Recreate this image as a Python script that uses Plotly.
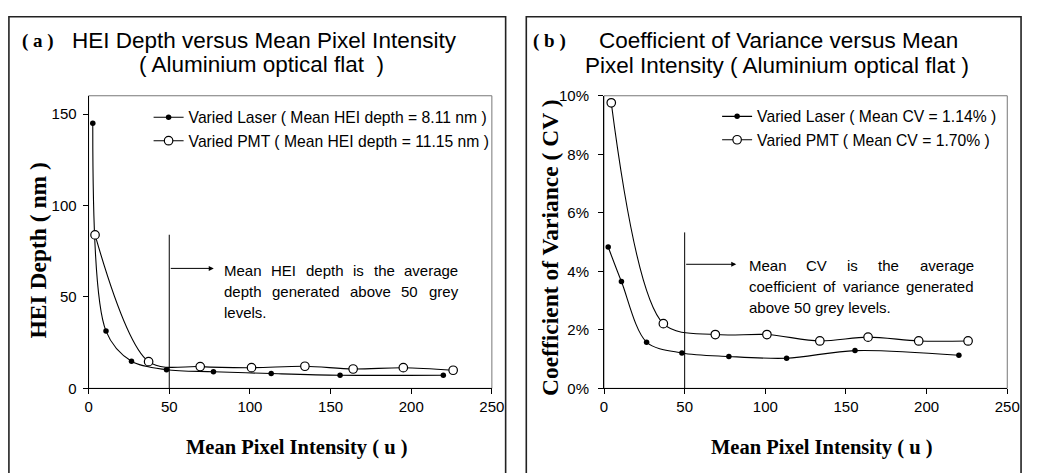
import plotly.graph_objects as go

W, H = 1037, 473

# ---------------- data ----------------
laser_x_a = [2.6, 10.8, 26.6, 48.3, 77.4, 113.2, 155.9, 219.9]
laser_y_a = [145, 31.3, 14.8, 10.2, 9.1, 8.1, 7.2, 7.2]
pmt_x_a = [4.0, 37.2, 69.2, 101.0, 134.1, 164.0, 195.1, 226.0]
pmt_y_a = [83.9, 14.6, 11.9, 11.3, 12.1, 10.6, 11.3, 9.9]

laser_x_b = [2.6, 10.8, 26.4, 48.3, 77.4, 113.2, 155.6, 220.0]
laser_y_b = [0.0483, 0.0365, 0.0158, 0.0121, 0.0109, 0.0103, 0.0129, 0.0113]
pmt_x_b = [4.5, 36.8, 69.0, 101.0, 133.8, 163.7, 195.1, 225.7]
pmt_y_b = [0.0976, 0.0221, 0.0184, 0.0184, 0.0162, 0.0175, 0.0162, 0.0162]

name_laser_a = "Varied Laser ( Mean HEI depth = 8.11 nm )"
name_pmt_a = "Varied PMT ( Mean HEI depth = 11.15 nm )"
name_laser_b = "Varied Laser ( Mean CV = 1.14% )"
name_pmt_b = "Varied PMT ( Mean CV = 1.70% )"

x_ticks = [0, 50, 100, 150, 200, 250]
y_ticks_a = [0, 50, 100, 150]
y_ticks_b = [0, 0.02, 0.04, 0.06, 0.08, 0.10]
threshold = 50
vline_top_a, arrow_y_a, arrow_end_a = 84, 65.6, 77.6
vline_top_b, arrow_y_b, arrow_end_b = 0.0533, 0.0424, 82

SANS = "Liberation Sans, Arial, sans-serif"
SERIF = "Liberation Serif, Times New Roman, serif"

def px(x):
    return x / W

def py(y):
    return 1 - y / H

fig = go.Figure()

laser_style = dict(mode="lines+markers", line=dict(color="black", width=1.1, shape="spline", smoothing=0.9),
                   marker=dict(symbol="circle", size=5.5, color="black"))
pmt_style = dict(mode="lines+markers", line=dict(color="black", width=1.1, shape="spline", smoothing=0.9),
                 marker=dict(symbol="circle", size=8.5, color="white", line=dict(color="black", width=1.2)))

fig.add_trace(go.Scatter(x=laser_x_a, y=laser_y_a, name=name_laser_a, xaxis="x", yaxis="y", legend="legend", **laser_style))
fig.add_trace(go.Scatter(x=pmt_x_a, y=pmt_y_a, name=name_pmt_a, xaxis="x", yaxis="y", legend="legend", **pmt_style))
fig.add_trace(go.Scatter(x=laser_x_b, y=laser_y_b, name=name_laser_b, xaxis="x2", yaxis="y2", legend="legend2", **laser_style))
fig.add_trace(go.Scatter(x=pmt_x_b, y=pmt_y_b, name=name_pmt_b, xaxis="x2", yaxis="y2", legend="legend2", **pmt_style))

ydom = [py(393.5), py(90)]
axis_common = dict(showgrid=False, zeroline=False, showline=True, linecolor="black", linewidth=1,
                   ticks="outside", ticklen=5, tickcolor="black", tickwidth=1,
                   tickfont=dict(family=SANS, size=15, color="black"))

legend_common = dict(xanchor="left", yanchor="top", bgcolor="rgba(0,0,0,0)", borderwidth=0,
                     font=dict(family=SANS, size=15.7, color="black"), itemwidth=30, tracegroupgap=0)

fig.update_layout(
    width=W, height=H, margin=dict(l=0, r=0, t=0, b=0),
    paper_bgcolor="white", plot_bgcolor="white", showlegend=True,
    xaxis=dict(domain=[px(86), px(496)], range=[0, 250], tickvals=x_ticks, anchor="y", **axis_common),
    yaxis=dict(domain=ydom, range=[0, 160], tickvals=y_ticks_a, anchor="x", ticklabelstandoff=3, **axis_common),
    xaxis2=dict(domain=[px(610), px(1020)], range=[0, 250], tickvals=x_ticks, anchor="y2", **axis_common),
    yaxis2=dict(domain=ydom, range=[0, 0.10], tickvals=y_ticks_b, tickformat=".0%", anchor="x2",
                ticklabelstandoff=6, **axis_common),
    legend=dict(x=px(147), y=py(95), **legend_common),
    legend2=dict(x=px(725), y=py(94), **legend_common),
)

shapes = []
# panel borders
for x0, x1 in [(5, 510), (531, 1034)]:
    shapes.append(dict(type="rect", xref="paper", yref="paper", x0=px(x0), x1=px(x1), y0=-0.05, y1=py(8),
                       line=dict(color="#222", width=1.6), fillcolor="rgba(0,0,0,0)", layer="below"))
# plot-area frames
for xr, yr in [("x", "y"), ("x2", "y2")]:
    shapes.append(dict(type="rect", xref=xr + " domain", yref=yr + " domain", x0=0, x1=1, y0=0, y1=1,
                       line=dict(color="#777", width=1), layer="below"))
# threshold vertical lines
shapes.append(dict(type="line", xref="x", yref="y", x0=threshold, x1=threshold, y0=0, y1=vline_top_a,
                   line=dict(color="black", width=1)))
shapes.append(dict(type="line", xref="x2", yref="y2", x0=threshold, x1=threshold, y0=0, y1=vline_top_b,
                   line=dict(color="black", width=1)))
fig.update_layout(shapes=shapes)

ann = []
# arrows
ann.append(dict(x=arrow_end_a, y=arrow_y_a, ax=threshold, ay=arrow_y_a, xref="x", yref="y", axref="x", ayref="y",
                text="", showarrow=True, arrowhead=2, arrowsize=1, arrowwidth=1, arrowcolor="black"))
ann.append(dict(x=arrow_end_b, y=arrow_y_b, ax=threshold, ay=arrow_y_b, xref="x2", yref="y2", axref="x2", ayref="y2",
                text="", showarrow=True, arrowhead=2, arrowsize=1, arrowwidth=1, arrowcolor="black"))

# titles
def txt(x, y, s, size, family=SANS, bold=False, **kw):
    d = dict(x=px(x), y=py(y), xref="paper", yref="paper", text=("<b>%s</b>" % s) if bold else s,
             showarrow=False, xanchor="center", yanchor="middle",
             font=dict(family=family, size=size, color="black"))
    d.update(kw)
    ann.append(d)

txt(35, 33, "( a )", 19, SERIF, True)
txt(265, 33, "HEI Depth versus Mean Pixel Intensity", 22.5)
txt(261.5, 58, "( Aluminium optical flat  )", 22.5)
txt(555, 33, "( b )", 19, SERIF, True)
txt(787, 33, "Coefficient of Variance versus Mean", 22.5)
txt(786, 59, "Pixel Intensity ( Aluminium optical flat )", 22.5)

# axis titles
txt(35, 250, "HEI Depth ( nm )", 23.5, SERIF, True, textangle=-90)
txt(555, 247, "Coefficient of Variance ( CV )", 23.5, SERIF, True, textangle=-90)
txt(298, 455, "Mean Pixel Intensity ( u )", 20.5, SERIF, True)
txt(832, 455, "Mean Pixel Intensity ( u )", 20.5, SERIF, True)

# justified explanatory text
CW = {'M': 833, 'e': 556, 'a': 556, 'n': 556, 'H': 722, 'E': 667, 'I': 278, 'd': 556, 'p': 556, 't': 278,
      'h': 556, 'i': 222, 's': 500, 'v': 500, 'r': 333, 'g': 556, 'o': 556, 'b': 556, '5': 556, '0': 556,
      'y': 500, 'l': 222, '.': 278, 'C': 722, 'V': 667, 'c': 500, 'f': 278}
FS = 15

def wwidth(w):
    return sum(CW.get(c, 556) for c in w) * FS / 1000.0

def justified(line, left, right, y, justify=True):
    words = line.split()
    if not justify or len(words) == 1:
        ann.append(dict(x=px(left), y=py(y), xref="paper", yref="paper", text=line, showarrow=False,
                        xanchor="left", yanchor="middle", font=dict(family=SANS, size=FS, color="black")))
        return
    total = sum(wwidth(w) for w in words)
    gap = (right - left - total) / (len(words) - 1)
    pos = left
    for w in words:
        ann.append(dict(x=px(pos), y=py(y), xref="paper", yref="paper", text=w, showarrow=False,
                        xanchor="left", yanchor="middle", font=dict(family=SANS, size=FS, color="black")))
        pos += wwidth(w) + gap

note_a = ["Mean HEI depth is the average", "depth generated above 50 grey", "levels."]
note_b = ["Mean CV is the average", "coefficient of variance generated", "above 50 grey levels."]
for i, (ln, yy) in enumerate(zip(note_a, [271.5, 293, 314.5])):
    justified(ln, 222, 459, yy, justify=(i < 2))
for i, (ln, yy) in enumerate(zip(note_b, [266, 288, 310])):
    justified(ln, 755, 983, yy, justify=(i < 2))

fig.update_layout(annotations=ann)
fig.write_html("out.html")
